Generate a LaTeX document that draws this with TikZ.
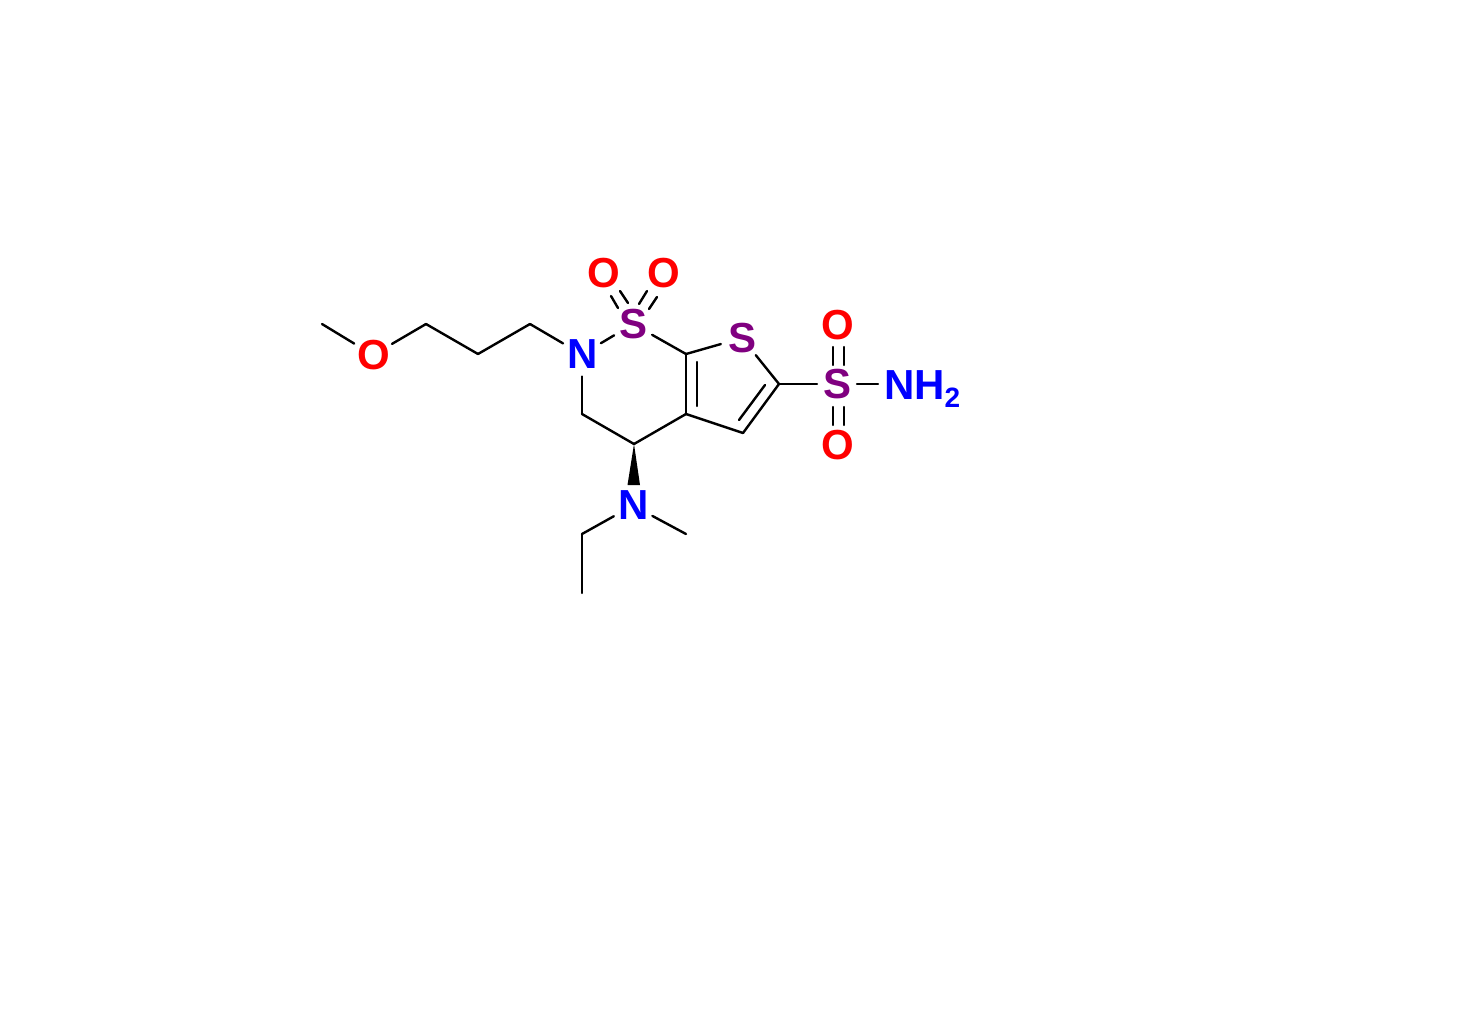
\documentclass[tikz,border=0pt]{standalone}
\usepackage{fontspec}
\setmainfont{Liberation Sans}[BoldFont={Liberation Sans Bold}]
\usetikzlibrary{calc}
\definecolor{atomO}{RGB}{255,0,0}
\definecolor{atomN}{RGB}{0,0,255}
\definecolor{atomS}{RGB}{128,0,128}
\newcommand{\atomtxt}[1]{\kern1.5pt\makebox[0pt]{\raisebox{-14pt}[0pt][0pt]{\fontsize{42}{42}\bfseries\selectfont #1}}}
\newcommand{\amidetxt}{\makebox[0pt][l]{\kern-16pt\raisebox{-15pt}[0pt][0pt]{\fontsize{42}{42}\bfseries\selectfont NH\raisebox{-8pt}{\fontsize{28}{28}\selectfont 2}}}}
\tikzset{
  atombox/.style={circle,inner sep=0pt,outer sep=0pt,minimum size=44pt},
  oxy/.style={atombox,text=atomO},
  nit/.style={atombox,text=atomN},
  sul/.style={atombox,text=atomS},
  bond/.style={draw=black,line width=2.4pt,line cap=round,line join=round}
}
\begin{document}
\begin{tikzpicture}[x=1pt,y=-1pt]
\useasboundingbox (0,0) rectangle (1460,1010);
% carbons
\coordinate (Cme) at (322,324);
\coordinate (Ca) at (426,324);
\coordinate (Cb) at (478,354);
\coordinate (Cc) at (530,324);
\coordinate (Cthree) at (582,414);
\coordinate (Cfour) at (634,444);
\coordinate (Cfa) at (686,414);
\coordinate (Csa) at (686,354);
\coordinate (Cfive) at (743,433);
\coordinate (Csix) at (779,384);
\coordinate (Cet) at (582,534);
\coordinate (Cetm) at (582,593);
\coordinate (Cnm) at (686,534);
% heteroatoms
\node[oxy] (Oe) at (373,355) {\atomtxt{O}};
\node[nit] (Nr) at (582,354.5) {\atomtxt{N}};
\node[sul] (Sr) at (633,324) {\atomtxt{S}};
\node[sul] (St) at (742,338) {\atomtxt{S}};
\node[oxy] (Ol) at (603,273) {\atomtxt{O}};
\node[oxy] (Or) at (663,273) {\atomtxt{O}};
\node[sul,minimum size=40pt] (Sa) at (837,384) {\atomtxt{S}};
\node[oxy] (Ot) at (837,325) {\atomtxt{O}};
\node[oxy] (Ob) at (837,445) {\atomtxt{O}};
\node[nit] (Nam) at (900,384) {\amidetxt};
\node[nit] (Nd) at (633,505.5) {\atomtxt{N}};
% chain
\draw[bond] (Cme) -- (Oe);
\draw[bond] (Oe) -- (Ca);
\draw[bond] (Ca) -- (Cb);
\draw[bond] (Cb) -- (Cc);
\draw[bond] (Cc) -- (Nr);
% six ring
\draw[bond] (Nr) -- (Sr);
\draw[bond] (Sr) -- (Csa);
\draw[bond] (Csa) -- (Cfa);
\draw[bond] ($(Csa)+(11,8)$) -- ($(Cfa)+(11,-8)$);
\draw[bond] (Cfa) -- (Cfour);
\draw[bond] (Cfour) -- (Cthree);
\draw[bond] (Cthree) -- (Nr);
% sulfone
\draw[bond] ($(Sr)+(-15,-16)$) -- ($(Ol)+(8,23)$);
\draw[bond] ($(Sr)+(-5,-21)$) -- ($(Ol)+(17,18)$);
\draw[bond] ($(Sr)+(6,-20)$) -- ($(Or)+(-16,18)$);
\draw[bond] ($(Sr)+(16,-15)$) -- ($(Or)+(-6,24)$);
% thiophene
\draw[bond] (Csa) -- (St);
\draw[bond] (St) -- (Csix);
\draw[bond] (Csix) -- (Cfive);
\draw[bond] ($(Csix)+(-14,1)$) -- ($(Cfive)+(-4,-13)$);
\draw[bond] (Cfive) -- (Cfa);
% sulfonamide
\draw[bond] (Csix) -- (Sa);
\draw[bond] (Sa) -- (Nam);
\draw[bond] ($(Sa)+(-4,-19)$) -- ($(Ot)+(-4,22)$);
\draw[bond] ($(Sa)+(7,-19)$) -- ($(Ot)+(7,22)$);
\draw[bond] ($(Sa)+(-4,23)$) -- ($(Ob)+(-4,-20)$);
\draw[bond] ($(Sa)+(7,23)$) -- ($(Ob)+(7,-20)$);
% amine
\fill[black] (Cfour) -- ($(Nd)+(-5.5,-20.5)$) -- ($(Nd)+(7,-20.5)$) -- cycle;
\draw[bond] (Nd) -- (Cet);
\draw[bond] (Cet) -- (Cetm);
\draw[bond] (Nd) -- (Cnm);
\end{tikzpicture}
\end{document}
